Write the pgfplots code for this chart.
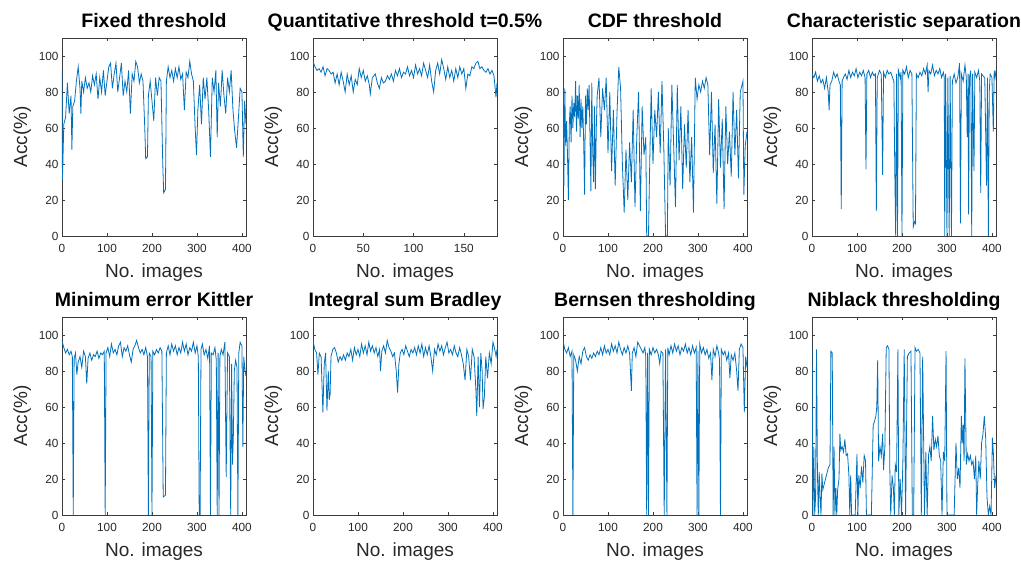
\documentclass[border=0pt]{standalone}
\usepackage{fontspec}
\setmainfont{Liberation Sans}
\usepackage{pgfplots}
\pgfplotsset{compat=1.18}
\definecolor{mblue}{RGB}{0,114,189}
\definecolor{axgray}{RGB}{60,60,60}
\definecolor{txtgray}{RGB}{40,40,40}
\pgfplotsset{
 panel/.style={
  scale only axis, width=184pt, height=198pt, anchor=south west,
  ymin=0, ymax=110, ytick={0,20,40,60,80,100},
  xmin=0, xmax=409, xtick={0,100,200,300,400},
  tick align=inside, major tick length=3pt,
  axis line style={axgray, line width=0.6pt},
  tick style={axgray, line width=0.5pt},
  ticklabel style={font=\fontsize{11.8}{13}\selectfont, text=txtgray},
  xticklabel style={yshift=-5pt},
  /pgf/number format/assume math mode=true,
  scaled ticks=false,
  xlabel={No. images}, ylabel={Acc(\%)},
  every axis x label/.style={at={(axis description cs:0.5,-0.212)}, anchor=base, font=\fontsize{19}{22}\selectfont, text=txtgray},
  every axis y label/.style={at={(axis description cs:-0.19,0.5)}, rotate=90, anchor=base, font=\fontsize{19}{22}\selectfont, text=txtgray},
  every axis title/.style={at={(axis description cs:0.5,1.054)}, anchor=base, font=\bfseries\fontsize{19.5}{22}\selectfont},
 },
 pl/.style={mblue, line width=0.8pt, mark=none},
}
\begin{document}
\begin{tikzpicture}
\path[use as bounding box] (0pt,0pt) rectangle (1021pt,562pt);
% ---------- row 1 ----------
\begin{axis}[panel, at={(62pt,326pt)}, title={Fixed threshold}]
\addplot[pl] coordinates {(0,92)(1,31)(4,62)(8,66)(12,85)(16,68)(20,78)(22,48)(24,72)(28,75)(32,86)(36,94)(40,82)(42,68)(44,86)(48,80)(52,88)(56,82)(60,85)(64,80)(68,89)(72,84)(76,90)(80,76)(84,88)(88,80)(92,92)(96,78)(100,86)(104,94)(108,96)(112,82)(116,90)(120,96)(124,80)(128,88)(132,96)(136,78)(140,86)(144,80)(148,92)(152,68)(156,90)(160,86)(164,97)(168,94)(172,85)(176,90)(180,86)(184,60)(186,43)(190,44)(192,78)(196,86)(200,75)(204,64)(208,88)(212,78)(216,88)(220,86)(224,40)(226,24)(230,26)(232,86)(236,94)(240,88)(244,92)(248,86)(252,93)(256,88)(260,94)(264,87)(268,90)(272,70)(276,91)(280,88)(284,97)(288,90)(292,86)(296,60)(299,45)(302,70)(306,84)(310,62)(314,88)(318,76)(322,88)(326,70)(330,44)(334,88)(338,80)(342,92)(345,55)(348,85)(352,72)(356,92)(360,78)(364,68)(368,88)(372,80)(376,92)(380,70)(384,58)(388,49)(392,65)(396,82)(400,80)(403,44)(406,75)(409,62)};
\end{axis}
\begin{axis}[panel, at={(313pt,326pt)}, xmax=183, xtick={0,50,100,150}, title={Quantitative threshold t=0.5\%}]
\addplot[pl] coordinates {(0,97)(2,94)(4,92)(6,93)(8,91)(10,94)(12,89)(14,93)(16,92)(18,90)(20,91)(22,85)(24,90)(26,84)(28,91)(30,86)(32,80)(34,90)(36,84)(38,89)(40,80)(42,87)(44,84)(46,93)(48,88)(50,92)(52,86)(54,89)(56,84)(57,79)(59,88)(62,90)(64,85)(66,82)(68,88)(70,85)(72,86)(74,89)(76,87)(78,90)(80,86)(82,92)(84,89)(86,93)(88,88)(90,91)(92,90)(94,94)(96,89)(98,92)(100,88)(102,95)(104,90)(106,93)(108,89)(110,96)(112,92)(114,88)(116,95)(118,86)(120,80)(122,92)(124,96)(126,90)(128,98)(130,93)(132,87)(134,94)(136,88)(138,92)(140,86)(142,93)(144,88)(146,94)(148,90)(150,93)(152,82)(154,90)(156,89)(158,94)(160,93)(162,96)(164,97)(166,93)(168,94)(170,92)(172,91)(174,93)(176,90)(178,92)(180,89)(182,77)(183,85)};
\end{axis}
\begin{axis}[panel, at={(563pt,326pt)}, title={CDF threshold}]
\addplot[pl] coordinates {(0,85)(2,28)(4,82)(6,50)(8,64)(10,45)(12,20)(14,62)(16,72)(18,52)(20,78)(22,60)(24,74)(26,66)(28,86)(30,58)(32,78)(34,65)(36,84)(38,55)(40,76)(42,60)(44,72)(46,52)(48,23)(50,78)(52,62)(54,82)(56,70)(58,84)(60,55)(62,25)(64,85)(66,48)(68,30)(70,72)(72,26)(74,60)(76,78)(80,88)(84,55)(88,82)(92,70)(96,88)(100,46)(104,80)(108,36)(112,70)(116,28)(120,68)(124,94)(128,82)(132,40)(136,13)(140,48)(144,20)(148,52)(152,30)(156,70)(160,16)(164,55)(168,80)(172,14)(176,72)(180,45)(184,55)(186,0)(190,0)(192,30)(196,82)(200,40)(204,70)(208,55)(212,80)(216,46)(220,86)(224,50)(228,0)(232,0)(234,60)(238,28)(242,84)(246,50)(250,16)(254,84)(258,42)(262,72)(266,26)(270,62)(274,38)(278,70)(282,30)(286,55)(290,13)(294,88)(298,76)(302,84)(306,80)(310,86)(314,82)(318,88)(322,84)(326,45)(330,80)(334,35)(338,62)(342,18)(346,76)(350,38)(354,65)(358,15)(362,72)(366,40)(370,58)(374,33)(378,80)(382,45)(386,70)(390,32)(394,80)(398,84)(400,86)(402,23)(405,50)(409,58)};
\end{axis}
\begin{axis}[panel, at={(812pt,326pt)}, title={Characteristic separation}]
\addplot[pl] coordinates {(0,90)(4,88)(8,91)(12,86)(16,89)(20,85)(24,87)(28,82)(32,88)(36,80)(38,70)(40,84)(44,86)(48,91)(52,88)(56,90)(60,86)(63,84)(65,15)(67,86)(70,88)(74,90)(78,87)(82,92)(86,88)(90,91)(94,89)(98,93)(102,88)(106,91)(110,89)(114,92)(118,88)(120,37)(122,90)(126,92)(130,88)(134,91)(138,89)(141,90)(143,14)(145,88)(150,92)(154,90)(157,34)(159,91)(163,88)(167,92)(171,90)(175,91)(179,88)(182,86)(184,37)(186,0)(188,90)(190,0)(192,92)(196,88)(198,91)(200,0)(202,92)(206,90)(210,94)(214,88)(218,92)(222,90)(225,5)(228,8)(230,7)(232,90)(236,88)(240,91)(244,89)(248,93)(252,90)(256,95)(258,80)(260,92)(264,90)(268,95)(272,89)(276,92)(280,90)(284,93)(288,88)(292,91)(294,88)(295,0)(297,90)(300,0)(302,88)(305,0)(307,89)(310,0)(312,86)(316,90)(320,85)(324,88)(326,92)(328,96)(330,7)(332,90)(336,86)(340,95)(343,88)(345,55)(347,90)(348,12)(350,88)(353,92)(355,0)(357,90)(360,36)(362,91)(366,88)(370,92)(373,86)(375,24)(377,90)(380,89)(384,88)(388,28)(390,88)(392,0)(394,80)(396,90)(400,88)(403,58)(405,92)(407,88)(409,92)};
\end{axis}
% ---------- row 2 ----------
\begin{axis}[panel, at={(62pt,47pt)}, title={Minimum error Kittler}]
\addplot[pl] coordinates {(0,97)(4,93)(8,90)(12,92)(16,89)(20,91)(23,88)(25,0)(27,87)(30,90)(33,78)(36,85)(40,88)(44,82)(48,91)(52,88)(55,73)(58,87)(62,90)(66,86)(70,89)(74,88)(78,91)(82,87)(86,90)(90,89)(94,91)(96,0)(98,90)(102,93)(106,88)(110,95)(114,90)(118,92)(122,89)(126,94)(130,96)(134,88)(138,93)(142,91)(146,94)(150,89)(154,85)(158,92)(162,94)(166,97)(170,93)(174,90)(178,92)(182,89)(186,93)(190,88)(192,0)(194,90)(198,88)(200,0)(202,91)(206,89)(210,92)(214,90)(218,93)(222,91)(225,10)(230,11)(232,90)(236,94)(240,89)(244,95)(248,91)(252,94)(256,89)(260,93)(264,90)(268,96)(272,91)(276,95)(280,89)(284,93)(288,91)(292,96)(296,90)(300,94)(303,88)(305,0)(307,0)(309,92)(312,95)(316,89)(320,92)(324,87)(328,94)(330,0)(332,90)(336,89)(340,93)(343,86)(345,0)(347,90)(349,0)(351,88)(354,92)(358,89)(362,96)(365,21)(368,90)(372,88)(375,0)(377,84)(379,28)(381,45)(383,80)(386,86)(389,82)(391,0)(393,90)(396,96)(400,94)(402,38)(404,88)(407,80)(409,77)};
\end{axis}
\begin{axis}[panel, at={(313pt,47pt)}, title={Integral sum Bradley}]
\addplot[pl] coordinates {(0,97)(4,92)(8,90)(11,78)(14,90)(18,88)(22,57)(25,84)(28,90)(31,58)(34,80)(36,64)(38,67)(40,88)(44,92)(48,93)(52,90)(56,85)(60,88)(64,86)(68,89)(72,86)(76,90)(80,88)(84,92)(88,86)(92,93)(96,89)(100,92)(104,88)(108,95)(112,90)(116,94)(120,89)(124,96)(128,91)(132,94)(136,90)(140,93)(144,88)(148,92)(150,80)(153,91)(157,94)(161,90)(165,97)(169,93)(173,91)(177,88)(181,90)(185,80)(188,68)(191,84)(194,90)(198,92)(202,89)(206,94)(210,91)(214,88)(218,92)(222,90)(226,93)(230,89)(234,94)(238,90)(242,95)(246,88)(250,93)(254,89)(258,94)(262,88)(266,80)(270,92)(274,89)(278,95)(282,91)(286,94)(290,89)(294,93)(298,96)(302,90)(306,92)(310,89)(314,94)(318,90)(322,88)(326,93)(330,89)(334,84)(338,75)(342,92)(346,88)(350,75)(354,92)(358,88)(362,70)(364,55)(367,88)(370,60)(373,90)(376,80)(378,59)(381,66)(384,88)(388,76)(392,90)(396,84)(400,96)(404,92)(407,88)(409,92)};
\end{axis}
\begin{axis}[panel, at={(563pt,47pt)}, title={Bernsen thresholding}]
\addplot[pl] coordinates {(0,97)(4,92)(8,90)(12,93)(16,88)(20,91)(22,0)(24,89)(28,86)(32,80)(36,88)(40,84)(44,91)(48,93)(52,88)(56,86)(60,89)(64,87)(68,90)(72,88)(76,91)(80,89)(84,93)(88,89)(92,94)(96,90)(100,92)(104,89)(108,95)(112,91)(116,94)(120,90)(124,96)(128,92)(132,89)(136,93)(140,90)(144,94)(148,90)(152,69)(154,90)(158,93)(162,88)(166,96)(170,94)(174,92)(178,90)(182,93)(184,88)(186,0)(188,90)(190,0)(192,92)(196,89)(200,93)(204,90)(208,92)(212,89)(215,84)(218,91)(222,90)(225,0)(228,92)(231,0)(233,93)(236,89)(240,94)(244,90)(248,95)(252,91)(256,94)(260,89)(264,93)(268,91)(272,95)(276,90)(280,93)(284,89)(288,94)(292,90)(296,93)(298,0)(300,91)(302,0)(304,95)(308,90)(312,93)(316,89)(320,92)(324,87)(328,90)(331,75)(334,92)(338,88)(342,94)(346,90)(348,86)(350,0)(352,92)(356,89)(360,91)(364,86)(368,90)(371,76)(374,89)(378,86)(382,90)(386,80)(389,69)(392,92)(396,95)(400,93)(403,57)(406,88)(409,82)};
\end{axis}
\begin{axis}[panel, at={(812pt,47pt)}, title={Niblack thresholding}]
\addplot[pl] coordinates {(0,93)(2,0)(4,38)(6,0)(8,10)(10,92)(12,25)(14,0)(16,24)(18,10)(20,0)(22,23)(24,14)(28,18)(32,22)(36,26)(40,28)(42,91)(45,90)(47,0)(49,38)(51,0)(53,15)(55,0)(57,14)(60,20)(62,45)(64,36)(67,38)(70,35)(73,42)(76,33)(79,34)(82,22)(84,0)(86,22)(88,0)(92,0)(96,0)(100,34)(102,0)(104,22)(107,15)(110,27)(113,18)(116,33)(119,30)(121,0)(124,0)(128,0)(132,0)(136,50)(139,52)(142,55)(144,60)(146,86)(148,30)(151,38)(154,33)(157,45)(159,25)(162,38)(165,93)(168,94)(171,92)(173,25)(175,0)(178,22)(181,15)(183,0)(185,28)(188,24)(191,92)(193,0)(196,20)(199,0)(202,30)(205,92)(208,0)(212,88)(216,90)(220,91)(223,0)(226,0)(229,93)(232,91)(236,92)(240,90)(243,0)(246,88)(248,45)(250,0)(253,35)(256,0)(259,33)(262,38)(265,30)(268,55)(271,36)(274,42)(277,38)(280,44)(283,33)(286,30)(289,0)(292,35)(295,30)(298,91)(300,0)(304,0)(308,0)(312,0)(316,0)(320,40)(323,20)(326,26)(329,15)(332,55)(334,40)(336,50)(338,30)(340,87)(343,28)(346,34)(349,30)(352,33)(355,28)(358,30)(361,20)(364,33)(366,0)(368,15)(371,30)(374,20)(377,40)(380,45)(383,55)(386,43)(389,10)(392,0)(395,5)(398,0)(401,43)(403,35)(406,15)(409,22)};
\end{axis}
\end{tikzpicture}
\end{document}
